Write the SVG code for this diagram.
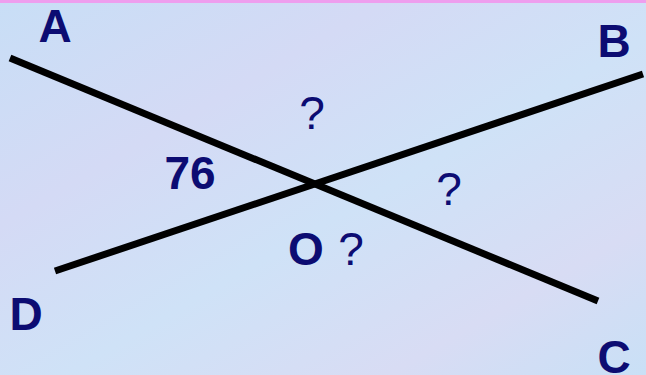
<svg xmlns="http://www.w3.org/2000/svg" width="646" height="375" viewBox="0 0 646 375">
<defs>
<linearGradient id="bg" x1="0" y1="0" x2="1" y2="1">
<stop offset="0" stop-color="#c8def6"/>
<stop offset="0.3" stop-color="#d4daf5"/>
<stop offset="0.55" stop-color="#cfe2f7"/>
<stop offset="0.8" stop-color="#d8dcf4"/>
<stop offset="1" stop-color="#c9e0f6"/>
</linearGradient>
<style>
.lbl{font-family:"Liberation Sans",Arial,sans-serif;font-size:46px;fill:#0c0c72;text-anchor:middle}
.b{font-weight:bold}
.ln{stroke:#000;stroke-width:7;fill:none}
</style>
</defs>
<rect width="646" height="375" fill="url(#bg)"/>
<rect width="646" height="3" fill="#ee9eee"/>
<g id="connectors">
<line class="ln" x1="10" y1="58" x2="598" y2="301"/>
<line class="ln" x1="55" y1="271" x2="643" y2="74"/>
</g>
<g id="A"><text class="lbl b" x="55" y="42">A</text></g>
<g id="B"><text class="lbl b" x="614" y="57">B</text></g>
<g id="C"><text class="lbl b" x="614" y="373">C</text></g>
<g id="D"><text class="lbl b" x="26" y="330">D</text></g>
<g id="O"><text class="lbl b" x="306" y="265">O</text></g>
<g id="angle76"><text class="lbl b" x="190" y="189">76</text></g>
<g id="q1"><text class="lbl" x="312" y="129">?</text></g>
<g id="q2"><text class="lbl" x="449" y="205">?</text></g>
<g id="q3"><text class="lbl" x="351" y="265">?</text></g>
</svg>
